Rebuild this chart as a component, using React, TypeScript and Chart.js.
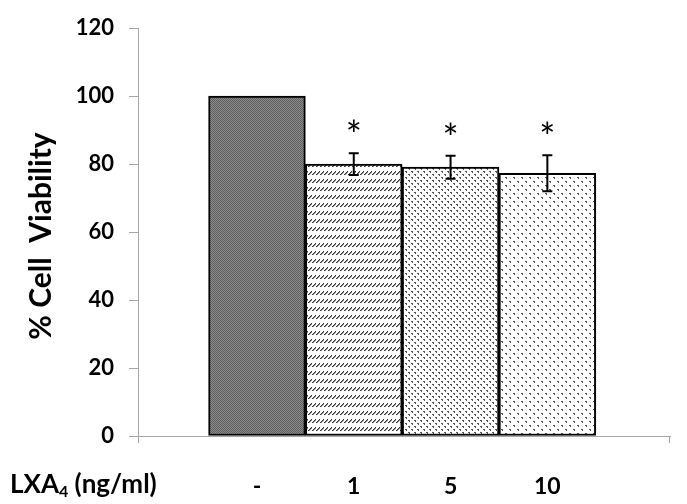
import React, { useEffect, useRef } from "react";
import { Chart, registerables } from "chart.js";

Chart.register(...registerables);

const categories = ["-", "1", "5", "10"];
const viability = [100, 80.0, 79.1, 77.3];
const errors = [0, 3.2, 3.4, 5.3];
const significant = [false, true, true, true];
const yTicks = [0, 20, 40, 60, 80, 100, 120];
const xTitleMain = "LXA";
const xTitleSub = "4";
const xTitleRest = " (ng/ml)";
const yTitle = "% Cell  Viability";

const FONT = "Lato, 'Open Sans', sans-serif";

function makePattern(kind: number): CanvasPattern | string {
  const c = document.createElement("canvas");
  const ctx = c.getContext("2d")!;
  if (kind === 0) {
    c.width = 4; c.height = 4;
    ctx.fillStyle = "#8c8c8c";
    ctx.fillRect(0, 0, 4, 4);
    ctx.fillStyle = "#5e5e5e";
    ctx.fillRect(0, 0, 1, 1); ctx.fillRect(2, 0, 1, 1);
    ctx.fillRect(1, 1, 1, 1); ctx.fillRect(3, 1, 1, 1);
    ctx.fillRect(0, 2, 1, 1); ctx.fillRect(2, 2, 1, 1);
    ctx.fillRect(1, 3, 1, 1); ctx.fillRect(3, 3, 1, 1);
  } else if (kind === 1) {
    c.width = 4; c.height = 8;
    ctx.fillStyle = "#ffffff";
    ctx.fillRect(0, 0, 4, 8);
    ctx.fillStyle = "#333333";
    ctx.fillRect(0, 6, 1, 1);
    ctx.fillRect(1, 5, 1, 1);
    ctx.fillRect(2, 4, 1, 1);
    ctx.fillRect(3, 3, 1, 1);
    ctx.fillStyle = "#888888";
    ctx.fillRect(1, 6, 1, 1);
    ctx.fillRect(2, 5, 1, 1);
    ctx.fillRect(3, 4, 1, 1);
  } else if (kind === 2) {
    c.width = 6; c.height = 6;
    ctx.fillStyle = "#ffffff";
    ctx.fillRect(0, 0, 6, 6);
    ctx.fillStyle = "#555555";
    ctx.fillRect(0, 0, 2, 1);
    ctx.fillRect(1, 1, 1, 1);
    ctx.fillRect(3, 3, 2, 1);
    ctx.fillRect(4, 4, 1, 1);
  } else {
    c.width = 8; c.height = 8;
    ctx.fillStyle = "#ffffff";
    ctx.fillRect(0, 0, 8, 8);
    ctx.fillStyle = "#555555";
    ctx.fillRect(1, 1, 2, 1);
    ctx.fillRect(2, 2, 1, 1);
    ctx.fillRect(5, 5, 2, 1);
    ctx.fillRect(6, 6, 1, 1);
  }
  return ctx.createPattern(c, "repeat") || "#888";
}

const annotations = {
  id: "annotations",
  afterDatasetsDraw(chart: any) {
    const ctx = chart.ctx as CanvasRenderingContext2D;
    const y = chart.scales.y;
    const x = chart.scales.x;
    const meta = chart.getDatasetMeta(0);
    ctx.save();
    meta.data.forEach((bar: any, i: number) => {
      const err = errors[i];
      if (err > 0) {
        const top = y.getPixelForValue(viability[i] + err);
        const bot = y.getPixelForValue(viability[i] - err);
        ctx.strokeStyle = "#000";
        ctx.lineWidth = 2;
        ctx.beginPath();
        ctx.moveTo(bar.x, top); ctx.lineTo(bar.x, bot);
        ctx.moveTo(bar.x - 5, top); ctx.lineTo(bar.x + 5, top);
        ctx.moveTo(bar.x - 5, bot); ctx.lineTo(bar.x + 5, bot);
        ctx.stroke();
        if (significant[i]) {
          ctx.fillStyle = "#000";
          ctx.font = `400 38px ${FONT}`;
          ctx.textAlign = "center";
          ctx.textBaseline = "alphabetic";
          ctx.fillText("*", bar.x, top - 4);
        }
      }
    });
    ctx.strokeStyle = "#a6a6a6";
    ctx.lineWidth = 1;
    ctx.beginPath();
    ctx.moveTo(Math.round(x.left) + 0.5, y.bottom);
    ctx.lineTo(Math.round(x.left) + 0.5, y.bottom + 7);
    ctx.moveTo(Math.round(x.right) - 0.5, y.bottom);
    ctx.lineTo(Math.round(x.right) - 0.5, y.bottom + 7);
    ctx.stroke();
    ctx.fillStyle = "#000";
    ctx.font = `700 30px ${FONT}`;
    ctx.textAlign = "center";
    ctx.textBaseline = "middle";
    ctx.translate(41, 236);
    ctx.rotate(-Math.PI / 2);
    ctx.fillText(yTitle, 0, 0);
    ctx.setTransform(1, 0, 0, 1, 0, 0);
    ctx.textAlign = "left";
    ctx.textBaseline = "alphabetic";
    ctx.font = `700 26px ${FONT}`;
    let px = 10;
    ctx.fillText(xTitleMain, px, 493);
    px += ctx.measureText(xTitleMain).width;
    ctx.font = `700 16px ${FONT}`;
    ctx.fillText(xTitleSub, px, 497);
    px += ctx.measureText(xTitleSub).width;
    ctx.font = `700 26px ${FONT}`;
    ctx.fillText(xTitleRest, px, 493);
    ctx.restore();
  },
};

export default function App() {
  const ref = useRef<HTMLCanvasElement | null>(null);
  useEffect(() => {
    if (!ref.current) return;
    const patterns = categories.map((_, i) => makePattern(i));
    const chart = new Chart(ref.current, {
      type: "bar",
      data: {
        datasets: [
          {
            data: viability.map((v, i) => ({ x: i + 1, y: v })),
            backgroundColor: patterns as any,
            borderColor: "#000",
            borderWidth: 2,
            borderSkipped: false,
            barPercentage: 1,
            categoryPercentage: 1,
          },
        ],
      },
      options: {
        animation: false,
        responsive: false,
        layout: { padding: { top: 22, right: 17, left: 0, bottom: 0 } },
        plugins: { legend: { display: false }, tooltip: { enabled: false } },
        scales: {
          x: {
            type: "linear",
            min: -0.229,
            max: 5.267,
            offset: false,
            grid: { display: false },
            border: { display: true, color: "#a6a6a6", width: 1 },
            afterBuildTicks: (scale: any) => {
              scale.ticks = categories.map((_, i) => ({ value: i + 1 }));
            },
            afterFit: (scale: any) => {
              scale.height = 68;
            },
            ticks: {
              autoSkip: false,
              maxRotation: 0,
              padding: 29,
              color: "#000",
              font: { family: FONT, size: 23, weight: "bold" },
              callback: (v: any) => categories[Number(v) - 1] ?? "",
            },
          },
          y: {
            min: 0,
            max: 120,
            afterBuildTicks: (scale: any) => {
              scale.ticks = yTicks.map((v) => ({ value: v }));
            },
            afterFit: (scale: any) => {
              scale.width = 138;
            },
            grid: { drawOnChartArea: false, tickLength: 9, color: "#a6a6a6" },
            border: { display: true, color: "#a6a6a6", width: 1 },
            ticks: {
              padding: 15,
              color: "#000",
              font: { family: FONT, size: 22, weight: "bold" },
            },
          },
        },
      },
      plugins: [annotations],
    });
    return () => chart.destroy();
  }, []);
  return (
    <div style={{ position: "fixed", left: 0, top: 0, width: 687, height: 504, background: "#fff" }}>
      <canvas ref={ref} width={687} height={504} style={{ width: 687, height: 504 }} />
    </div>
  );
}
